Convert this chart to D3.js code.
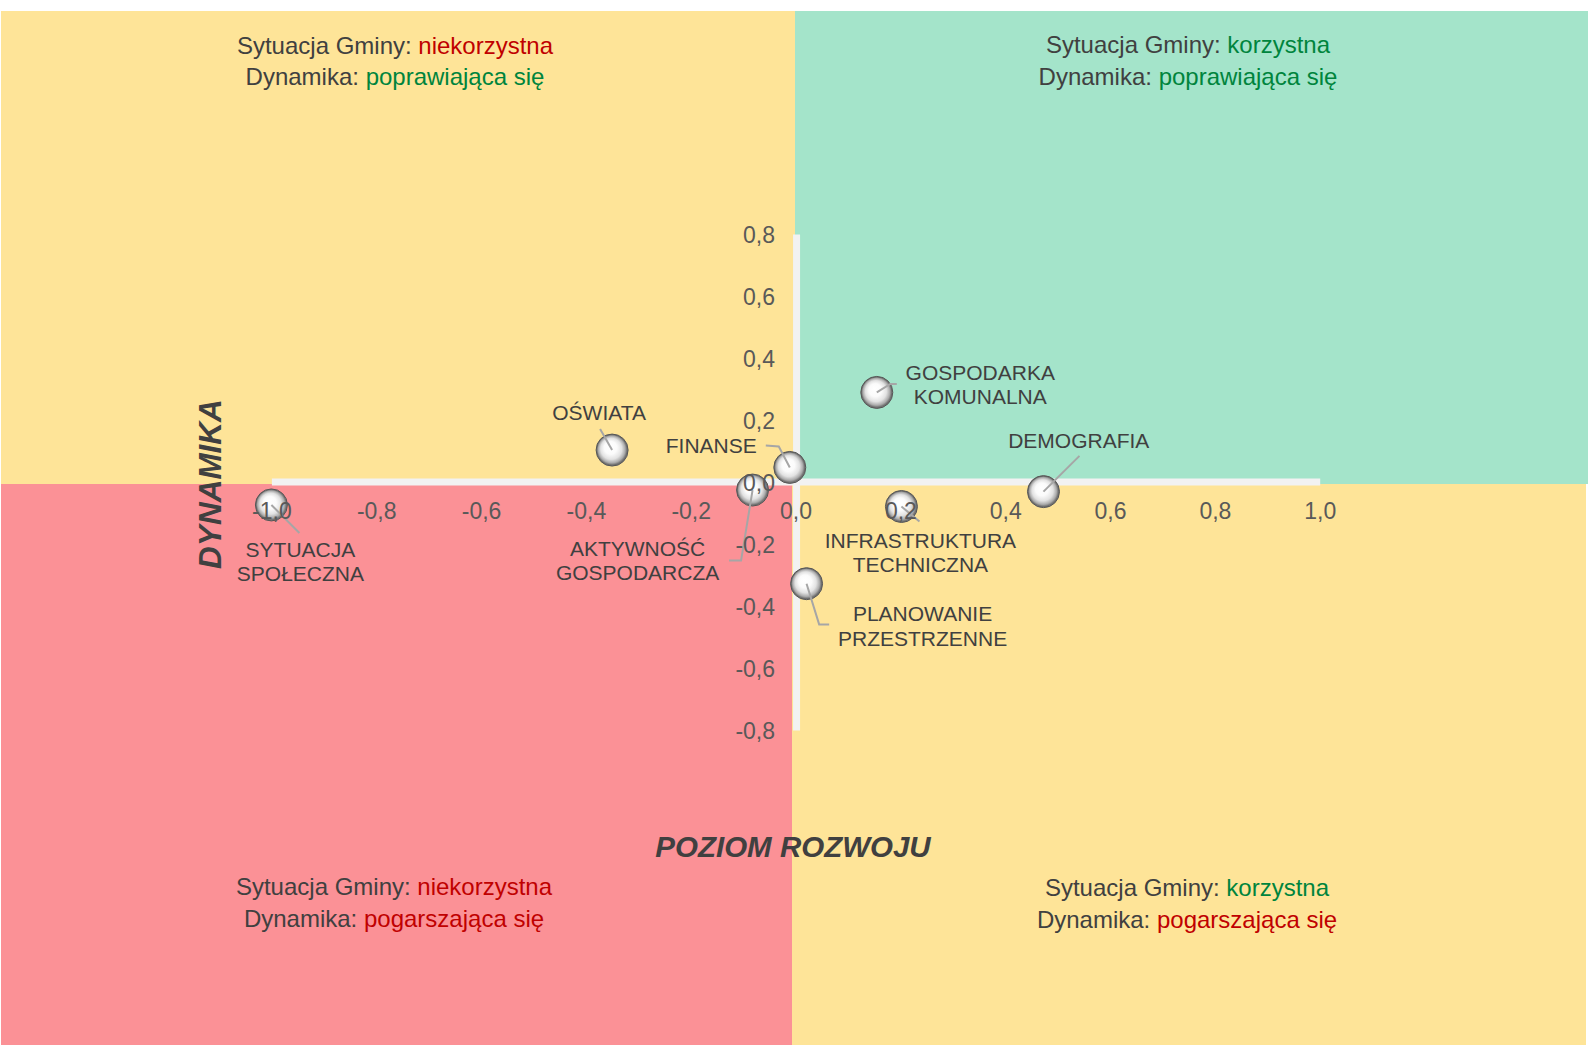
<!DOCTYPE html>
<html>
<head>
<meta charset="utf-8">
<script src="https://cdn.jsdelivr.net/npm/d3@7"></script>
<style>
  html, body { margin: 0; padding: 0; background: #ffffff; }
  svg { display: block; }
  text { font-family: "Liberation Sans", Arial, sans-serif; }
</style>
</head>
<body>
<svg id="chart" width="1588" height="1045"></svg>
<script>
// ---------- DATA ----------
const categories = [
  "SYTUACJA SPOŁECZNA",
  "OŚWIATA",
  "FINANSE",
  "AKTYWNOŚĆ GOSPODARCZA",
  "GOSPODARKA KOMUNALNA",
  "DEMOGRAFIA",
  "INFRASTRUKTURA TECHNICZNA",
  "PLANOWANIE PRZESTRZENNE"
];
const labelLines = [
  ["SYTUACJA", "SPOŁECZNA"],
  ["OŚWIATA"],
  ["FINANSE"],
  ["AKTYWNOŚĆ", "GOSPODARCZA"],
  ["GOSPODARKA", "KOMUNALNA"],
  ["DEMOGRAFIA"],
  ["INFRASTRUKTURA", "TECHNICZNA"],
  ["PLANOWANIE", "PRZESTRZENNE"]
];
const poziomRozwoju = [-1.00, -0.350, -0.011, -0.082, 0.155, 0.473, 0.202, 0.021];
const dynamika      = [-0.074, 0.103, 0.047, -0.026, 0.289, -0.031, -0.079, -0.328];

const xTicks = [-1.0, -0.8, -0.6, -0.4, -0.2, 0.0, 0.2, 0.4, 0.6, 0.8, 1.0];
const yTicks = [-0.8, -0.6, -0.4, -0.2, 0.0, 0.2, 0.4, 0.6, 0.8];

const xTitle = "POZIOM ROZWOJU";
const yTitle = "DYNAMIKA";

const quadrantTexts = [
  { line1: ["Sytuacja Gminy: ", "niekorzystna"], c1: "bad",  line2: ["Dynamika: ", "poprawiająca się"], c2: "good" },
  { line1: ["Sytuacja Gminy: ", "korzystna"],    c1: "good", line2: ["Dynamika: ", "poprawiająca się"], c2: "good" },
  { line1: ["Sytuacja Gminy: ", "niekorzystna"], c1: "bad",  line2: ["Dynamika: ", "pogarszająca się"], c2: "bad" },
  { line1: ["Sytuacja Gminy: ", "korzystna"],    c1: "good", line2: ["Dynamika: ", "pogarszająca się"], c2: "bad" }
];

// ---------- LAYOUT (pixel offsets of labels / leader lines relative to bubble) ----------
const labelLayout = [
  { anchor: "middle", dx: 29,    dy: [45, 69],   leader: [[28, 28]] },
  { anchor: "middle", dx: -13,   dy: [-37],      leader: [[-12, -21]] },
  { anchor: "end",    dx: -33,   dy: [-22],      leader: [[-11, -21], [-24, -22]] },
  { anchor: "middle", dx: -115,  dy: [59, 83],   leader: [[-11.5, 70.5], [-23.5, 70.5]] },
  { anchor: "middle", dx: 103.5, dy: [-20, 4.5], leader: [[13.5, -8.5], [20, -8.5]] },
  { anchor: "middle", dx: 35.3,  dy: [-51],      leader: [[36, -35.7]] },
  { anchor: "middle", dx: 19,    dy: [34.4, 58.6], leader: [[18, 15]] },
  { anchor: "middle", dx: 116,   dy: [30.4, 54.7], leader: [[12.6, 40.7], [22.6, 40.7]] }
];

const W = 1588, H = 1045;
const colors = {
  yellow: "#FEE498", green: "#A4E4CA", red: "#FB9196",
  axis: "#F2F2F2", text: "#404040", tick: "#595959",
  bad: "#C00000", good: "#00843D", leader: "#A6A6A6"
};

const svg = d3.select("#chart");

const x = d3.scaleLinear().domain([-1, 1]).range([271.4, 1319.7]);
const y = d3.scaleLinear().domain([-0.8, 0.8]).range([730, 234]);

const locale = d3.formatLocale({ decimal: ",", thousands: " ", grouping: [3], currency: ["", " zł"], minus: "-" });
const fmt = locale.format(".1f");

// ---------- Background quadrants ----------
const top0 = 11, midY = 484;
const quads = [
  { x0: 1,   x1: 795,  y0: top0, y1: midY, fill: colors.yellow },
  { x0: 795, x1: 1588, y0: top0, y1: midY, fill: colors.green },
  { x0: 1,   x1: 792,  y0: midY, y1: H,    fill: colors.red },
  { x0: 792, x1: 1586, y0: midY, y1: H,    fill: colors.yellow }
];
svg.append("g").selectAll("rect").data(quads).join("rect")
  .attr("x", d => d.x0).attr("y", d => d.y0)
  .attr("width", d => d.x1 - d.x0).attr("height", d => d.y1 - d.y0)
  .attr("fill", d => d.fill);

// ---------- Quadrant texts ----------
const qCenters = [[395, 45.6, 77], [1188, 44.8, 76.3], [394, 887, 919], [1187, 888, 919.6]];
const qg = svg.append("g").attr("font-size", 24);
quadrantTexts.forEach((q, i) => {
  const [cx, y1, y2] = qCenters[i];
  const t1 = qg.append("text").attr("x", cx).attr("y", y1).attr("dy", "0.35em").attr("text-anchor", "middle");
  t1.append("tspan").attr("fill", colors.text).text(q.line1[0]);
  t1.append("tspan").attr("fill", colors[q.c1]).text(q.line1[1]);
  const t2 = qg.append("text").attr("x", cx).attr("y", y2).attr("dy", "0.35em").attr("text-anchor", "middle");
  t2.append("tspan").attr("fill", colors.text).text(q.line2[0]);
  t2.append("tspan").attr("fill", colors[q.c2]).text(q.line2[1]);
});

// ---------- Axis lines (domain) ----------
const xAxis = d3.axisBottom(x).tickValues(xTicks).tickSize(0).tickFormat(fmt);
const yAxis = d3.axisLeft(y).tickValues(yTicks).tickSize(0).tickFormat(fmt);

const xDomain = svg.append("g").attr("transform", `translate(0,${y(0) - 0.5})`).call(xAxis);
xDomain.selectAll(".tick").remove();
xDomain.select(".domain").attr("stroke", colors.axis).attr("stroke-width", 7);

const yDomain = svg.append("g").attr("transform", `translate(${x(0) + 0.5},0)`).call(yAxis);
yDomain.selectAll(".tick").remove();
yDomain.select(".domain").attr("stroke", colors.axis).attr("stroke-width", 7);

// ---------- Axis titles ----------
svg.append("text")
  .attr("x", 793).attr("y", 847).attr("dy", "0.35em")
  .attr("text-anchor", "middle")
  .attr("font-size", 29.5).attr("font-weight", "bold").attr("font-style", "italic")
  .attr("fill", colors.text)
  .text(xTitle);

svg.append("text")
  .attr("transform", "translate(210,484) rotate(-90)")
  .attr("dy", "0.35em")
  .attr("text-anchor", "middle")
  .attr("font-size", 31.5).attr("font-weight", "bold").attr("font-style", "italic")
  .attr("fill", colors.text)
  .text(yTitle);

// ---------- Bubble gradient ----------
const defs = svg.append("defs");
const grad = defs.append("radialGradient").attr("id", "ball")
  .attr("cx", "50%").attr("cy", "50%").attr("r", "50%")
  .attr("fx", "42%").attr("fy", "38%");
[
  ["0%", "#ffffff"], ["40%", "#fbfbfb"], ["66%", "#e2e2e2"],
  ["84%", "#ababab"], ["94%", "#6f6f6f"], ["100%", "#858585"]
].forEach(([o, c]) => grad.append("stop").attr("offset", o).attr("stop-color", c));

const points = categories.map((c, i) => ({
  name: c, lines: labelLines[i], x: poziomRozwoju[i], y: dynamika[i], lay: labelLayout[i]
}));

// ---------- Bubbles ----------
svg.append("g").selectAll("circle").data(points).join("circle")
  .attr("cx", d => x(d.x)).attr("cy", d => y(d.y)).attr("r", 16)
  .attr("fill", "url(#ball)")
  .attr("stroke", "#555555").attr("stroke-width", 1);

// ---------- Leader lines ----------
svg.append("g").selectAll("polyline").data(points).join("polyline")
  .attr("points", d => {
    const cx = x(d.x), cy = y(d.y);
    return [[cx, cy]].concat(d.lay.leader.map(p => [cx + p[0], cy + p[1]])).map(p => p.join(",")).join(" ");
  })
  .attr("fill", "none").attr("stroke", colors.leader).attr("stroke-width", 2);

// ---------- Data labels ----------
const lg = svg.append("g").attr("font-size", 21).attr("fill", colors.text);
points.forEach(d => {
  const cx = x(d.x), cy = y(d.y);
  d.lines.forEach((ln, k) => {
    lg.append("text")
      .attr("x", cx + d.lay.dx).attr("y", cy + d.lay.dy[k]).attr("dy", "0.35em")
      .attr("text-anchor", d.lay.anchor)
      .text(ln);
  });
});

// ---------- Tick labels (drawn on top) ----------
const xLab = svg.append("g").attr("transform", `translate(0,${y(0) - 0.5})`).call(xAxis);
xLab.select(".domain").remove();
xLab.selectAll("text").attr("y", 29).attr("dy", "0.35em")
  .attr("font-size", 23).attr("fill", colors.tick)
  .attr("font-family", "'Liberation Sans', Arial, sans-serif");

const yLab = svg.append("g").attr("transform", `translate(${x(0) + 0.5},0)`).call(yAxis);
yLab.select(".domain").remove();
yLab.selectAll("text").attr("x", -21).attr("dy", "0.35em")
  .attr("font-size", 23).attr("fill", colors.tick)
  .attr("font-family", "'Liberation Sans', Arial, sans-serif");
</script>
</body>
</html>
